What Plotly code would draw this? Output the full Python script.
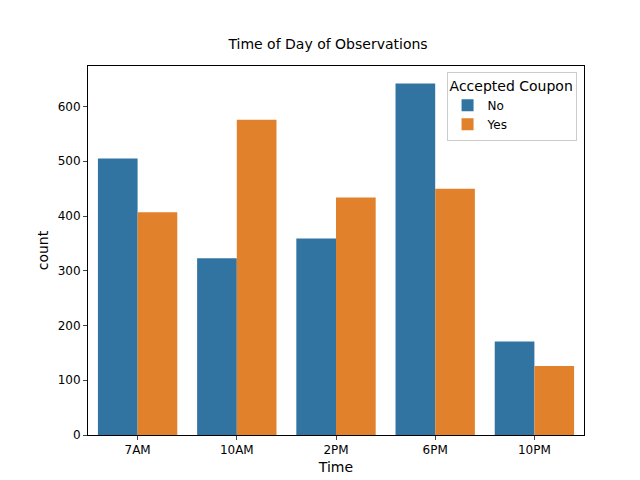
import plotly.graph_objects as go

times = ["7AM", "10AM", "2PM", "6PM", "10PM"]
no_vals = [505, 323, 359, 642, 171]
yes_vals = [407, 576, 434, 450, 126]

fig = go.Figure()
fig.add_bar(x=times, y=no_vals, name="No", marker_color="#3274a1", marker_line_width=0)
fig.add_bar(x=times, y=yes_vals, name="Yes", marker_color="#e1812c", marker_line_width=0)

fig.update_layout(
    width=640, height=480, barmode="group", bargap=0.2, bargroupgap=0,
    plot_bgcolor="white", paper_bgcolor="white",
    font=dict(family="DejaVu Sans", size=12, color="black"),
    title=dict(text="Time of Day of Observations", x=0.5, xanchor="center", y=0.925, yanchor="middle", font=dict(size=14)),
    margin=dict(l=80, r=64, t=58, b=53),
    legend=dict(title=dict(text="Accepted Coupon", side="top"), x=0.985, y=0.985, xanchor="right", yanchor="top",
                bordercolor="#cccccc", borderwidth=1, bgcolor="rgba(255,255,255,0.8)"),
    xaxis=dict(title=dict(text="Time", standoff=5), showline=True, linecolor="black", mirror=True, ticks="outside", ticklen=4),
    yaxis=dict(title=dict(text="count", standoff=5), range=[0, 674], showline=True, linecolor="black", mirror=True,
               ticks="outside", ticklen=4, showgrid=False, tickvals=[0, 100, 200, 300, 400, 500, 600], zeroline=False),
)
fig.write_html("out.html")
